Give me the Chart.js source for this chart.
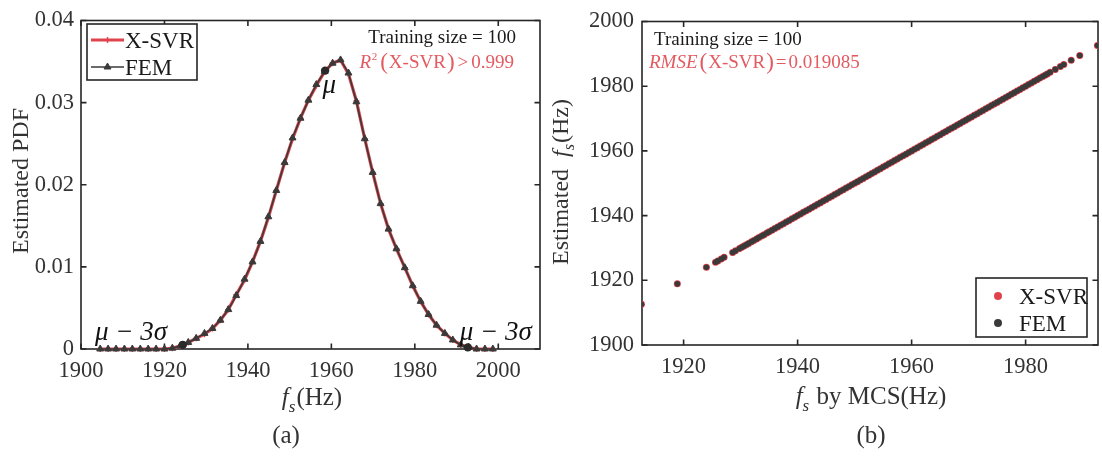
<!DOCTYPE html>
<html>
<head>
<meta charset="utf-8">
<script src="https://cdn.jsdelivr.net/npm/chart.js@4.4.1/dist/chart.umd.min.js"></script>
<style>
  html, body { margin: 0; padding: 0; background: #fff; }
  #wrap { position: relative; width: 1102px; height: 456px; overflow: hidden; }
  canvas { position: absolute; top: 0; }
  #pdfChart { left: 0; }
  #scatterChart { left: 551px; }
</style>
</head>
<body>
<div id="wrap">
  <canvas id="pdfChart" width="551" height="456"></canvas>
  <canvas id="scatterChart" width="551" height="456"></canvas>
</div>
<script>
// ---------- (a) estimated PDF of the first natural frequency ----------
const pdfFreq = [
  1904.6, 1906.5, 1908.4, 1910.4, 1912.3, 1914.2, 1916.1, 1918.0, 1920.0, 1921.9,
  1923.8, 1925.7, 1927.6, 1929.6, 1931.5, 1933.4, 1935.3, 1937.2, 1939.2, 1941.1,
  1943.0, 1944.9, 1946.8, 1948.8, 1950.7, 1952.6, 1954.5, 1956.4, 1958.4, 1960.3,
  1962.2, 1964.1, 1966.0, 1968.0, 1969.9, 1971.8, 1973.7, 1975.6, 1977.6, 1979.5,
  1981.4, 1983.3, 1985.2, 1987.2, 1989.1, 1991.0, 1992.9, 1994.8, 1996.8, 1998.7
];
const pdfXsvr = [
  0, 0, 0, 0, 0, 0, 0, 0, 0, 0.0001,
  0.0004, 0.0008, 0.0013, 0.0018, 0.0025, 0.0035, 0.0048, 0.0066, 0.0084, 0.0106,
  0.0131, 0.0160, 0.0193, 0.0227, 0.0256, 0.0281, 0.0303, 0.0321, 0.0338, 0.0348,
  0.0352, 0.0335, 0.0302, 0.0256, 0.0215, 0.0177, 0.0146, 0.0122, 0.0099, 0.0077,
  0.0058, 0.0042, 0.0029, 0.0019, 0.0011, 0.0005, 0.0002, 0, 0, 0
];
const pdfFem = [
  0, 0, 0, 0, 0, 0, 0, 0, 0, 0.0001,
  0.0004, 0.0008, 0.0013, 0.0019, 0.0025, 0.0035, 0.0048, 0.0065, 0.0085, 0.0106,
  0.0131, 0.0161, 0.0193, 0.0227, 0.0257, 0.0281, 0.0303, 0.0322, 0.0338, 0.0348,
  0.0352, 0.0336, 0.0301, 0.0256, 0.0215, 0.0177, 0.0146, 0.0122, 0.0099, 0.0077,
  0.0058, 0.0042, 0.0029, 0.0019, 0.0011, 0.0005, 0.0002, 0, 0, 0
];
// mean and the two 3-sigma bounds marked on the curve
const markFreq = [1924.4, 1958.5, 1992.7];
const markPdf = [0.0005, 0.0339, 0.0002];
const pdfTicksX = [1900, 1920, 1940, 1960, 1980, 2000];
const pdfTicksY = [0, 0.01, 0.02, 0.03, 0.04];

// ---------- (b) estimated vs. MCS frequencies ----------
const mcsFreq = [
  1912.6, 1918.9, 1924.0, 1925.6, 1926.0, 1926.6, 1927.1, 1928.6, 1929.1, 1929.8,
  1930.2, 1930.6, 1931.0, 1931.4, 1931.9, 1932.3, 1932.8, 1933.2, 1933.7, 1934.1,
  1934.6, 1935.0, 1935.5, 1936.0, 1936.5, 1937.0, 1937.5, 1938.0, 1938.5, 1939.0,
  1939.5, 1940.0, 1940.5, 1941.0, 1941.5, 1942.0, 1942.5, 1943.0, 1943.5, 1944.0,
  1944.5, 1945.0, 1945.5, 1946.0, 1946.5, 1947.0, 1947.5, 1948.0, 1948.5, 1949.0,
  1949.5, 1950.0, 1950.5, 1951.0, 1951.5, 1952.0, 1952.5, 1953.0, 1953.5, 1954.0,
  1954.5, 1955.0, 1955.5, 1956.0, 1956.5, 1957.0, 1957.5, 1958.0, 1958.5, 1959.0,
  1959.5, 1960.0, 1960.5, 1961.0, 1961.5, 1962.0, 1962.5, 1963.0, 1963.5, 1964.0,
  1964.5, 1965.0, 1965.5, 1966.0, 1966.5, 1967.0, 1967.5, 1968.0, 1968.5, 1969.0,
  1969.5, 1970.0, 1970.5, 1971.0, 1971.5, 1972.0, 1972.5, 1973.0, 1973.5, 1974.0,
  1974.5, 1975.0, 1975.5, 1976.0, 1976.5, 1977.0, 1977.5, 1978.0, 1978.5, 1979.0,
  1979.5, 1980.0, 1980.5, 1981.0, 1981.5, 1982.0, 1982.5, 1983.0, 1983.4, 1983.8,
  1984.3, 1985.2, 1986.1, 1986.7, 1988.0, 1989.5, 1992.6
];
const femFreq = mcsFreq;
const xsvrFreq = [
  1912.6, 1918.9, 1924.0, 1925.6, 1926.0, 1926.6, 1927.1, 1928.6, 1929.1, 1929.8,
  1930.2, 1930.6, 1931.0, 1931.4, 1931.9, 1932.3, 1932.8, 1933.2, 1933.7, 1934.1,
  1934.6, 1935.0, 1935.5, 1936.0, 1936.5, 1937.0, 1937.5, 1938.0, 1938.5, 1939.0,
  1939.5, 1940.0, 1940.5, 1941.0, 1941.5, 1942.0, 1942.5, 1943.0, 1943.5, 1944.0,
  1944.5, 1945.0, 1945.5, 1946.0, 1946.5, 1947.0, 1947.5, 1948.0, 1948.5, 1949.0,
  1949.5, 1950.0, 1950.5, 1951.0, 1951.5, 1952.0, 1952.5, 1953.0, 1953.5, 1954.0,
  1954.5, 1955.0, 1955.5, 1956.0, 1956.5, 1957.0, 1957.5, 1958.0, 1958.5, 1959.0,
  1959.5, 1960.0, 1960.5, 1961.0, 1961.5, 1962.0, 1962.5, 1963.0, 1963.5, 1964.0,
  1964.5, 1965.0, 1965.5, 1966.0, 1966.5, 1967.0, 1967.5, 1968.0, 1968.5, 1969.0,
  1969.5, 1970.0, 1970.5, 1971.0, 1971.5, 1972.0, 1972.5, 1973.0, 1973.5, 1974.0,
  1974.5, 1975.0, 1975.5, 1976.0, 1976.5, 1977.0, 1977.5, 1978.0, 1978.5, 1979.0,
  1979.5, 1980.0, 1980.5, 1981.0, 1981.5, 1982.0, 1982.5, 1983.0, 1983.4, 1983.8,
  1984.3, 1985.2, 1986.1, 1986.7, 1988.0, 1989.5, 1992.6
];
const scatterTicksX = [1920, 1940, 1960, 1980];
const scatterTicksY = [1900, 1920, 1940, 1960, 1980, 2000];

// ---------- styling ----------
const SERIF = "'Liberation Serif','Times New Roman',serif";
const INK = '#262626';
const LABEL = '#333333';
const RED = '#e0434b';
const RED_TEXT = '#e35a60';
const DARK = '#3a3a3a';

function serif(size, italic) { return (italic ? 'italic ' : '') + size + 'px ' + SERIF; }

function pairs(xs, ys) { return xs.map((x, i) => ({ x: x, y: ys[i] })); }

// draws a row of text pieces with individual fonts / offsets
function drawRuns(ctx, runs, x, y, align) {
  let w = 0;
  for (const r of runs) { ctx.font = r.font; w += ctx.measureText(r.text).width + (r.gap || 0); }
  let cx = align === 'center' ? x - w / 2 : (align === 'right' ? x - w : x);
  ctx.textAlign = 'left';
  ctx.textBaseline = 'alphabetic';
  for (const r of runs) {
    ctx.font = r.font;
    if (r.color) ctx.fillStyle = r.color;
    ctx.fillText(r.text, cx, y + (r.dy || 0));
    cx += ctx.measureText(r.text).width + (r.gap || 0);
  }
}

// f with italic subscript s, followed by the rest of an axis title
function freqTitle(size, before, after) {
  const runs = [];
  if (before) runs.push({ text: before, font: serif(size) });
  runs.push({ text: 'f', font: serif(size, true), gap: 0 });
  runs.push({ text: 's', font: serif(Math.round(size * 0.68), true), dy: Math.round(size * 0.27), gap: 1 });
  runs.push({ text: after, font: serif(size) });
  return runs;
}

// boxed axes with inward tick marks on all four sides
const boxAxes = {
  id: 'boxAxes',
  beforeDatasetsDraw(chart) {
    const { ctx, chartArea: a, scales: { x, y } } = chart;
    const tl = 5.5;
    ctx.save();
    ctx.strokeStyle = INK;
    ctx.lineWidth = 1.6;
    ctx.beginPath();
    for (const t of x.ticks) {
      const px = x.getPixelForValue(t.value);
      ctx.moveTo(px, a.bottom); ctx.lineTo(px, a.bottom - tl);
      ctx.moveTo(px, a.top); ctx.lineTo(px, a.top + tl);
    }
    for (const t of y.ticks) {
      const py = y.getPixelForValue(t.value);
      ctx.moveTo(a.left, py); ctx.lineTo(a.left + tl, py);
      ctx.moveTo(a.right, py); ctx.lineTo(a.right - tl, py);
    }
    ctx.stroke();
    ctx.strokeRect(a.left, a.top, a.right - a.left, a.bottom - a.top);
    ctx.restore();
  }
};

function fixedTicks(values) {
  return function (scale) { scale.ticks = values.map(v => ({ value: v })); };
}

function tickFont() { return { family: SERIF, size: 22.5 }; }
const noGrid = { display: false, drawTicks: false };

// ---------- chart (a) ----------
const pdfDecor = {
  id: 'pdfDecor',
  afterDraw(chart) {
    const { ctx, scales: { x, y } } = chart;
    const ds = chart.data.datasets;
    ctx.save();
    ctx.fillStyle = LABEL;

    // axis titles
    drawRuns(ctx, freqTitle(25, '', '(Hz)'), 312, 405, 'center');
    drawRuns(ctx, [{ text: '(a)', font: serif(25) }], 286, 443, 'center');
    ctx.save();
    ctx.translate(28, 181);
    ctx.rotate(-Math.PI / 2);
    drawRuns(ctx, [{ text: 'Estimated PDF', font: serif(24) }], 0, 0, 'center');
    ctx.restore();

    // annotations
    ctx.fillStyle = '#1a1a1a';
    drawRuns(ctx, [{ text: 'Training size = 100', font: serif(19) }], 516, 43, 'right');
    drawRuns(ctx, [
      { text: 'R', font: serif(19, true), color: RED_TEXT, gap: 0.5 },
      { text: '2', font: serif(11), dy: -8, gap: 3 },
      { text: '(', font: serif(23), dy: 1, gap: 1 },
      { text: 'X-SVR', font: serif(19), gap: 1 },
      { text: ')', font: serif(23), dy: 1, gap: 3 },
      { text: '>', font: serif(19), gap: 3 },
      { text: '0.999', font: serif(19) }
    ], 514, 68, 'right');

    // mean / 3-sigma labels
    ctx.fillStyle = '#111';
    ctx.textAlign = 'center';
    ctx.textBaseline = 'middle';
    ctx.font = serif(27, true);
    ctx.fillText('\u03bc', x.getPixelForValue(1959.5), y.getPixelForValue(0.0320));
    ctx.fillText('\u03bc \u2212 3\u03c3', x.getPixelForValue(1912.0), y.getPixelForValue(0.0019));
    ctx.fillText('\u03bc \u2212 3\u03c3', x.getPixelForValue(1999.4), y.getPixelForValue(0.0019));

    // legend
    const L = { left: 87, top: 24, right: 197, bottom: 80 };
    ctx.fillStyle = '#fff';
    ctx.fillRect(L.left, L.top, L.right - L.left, L.bottom - L.top);
    ctx.strokeStyle = INK;
    ctx.lineWidth = 1.6;
    ctx.strokeRect(L.left, L.top, L.right - L.left, L.bottom - L.top);
    const rows = [{ d: ds[1], y: 40 }, { d: ds[0], y: 67 }];
    for (const r of rows) {
      ctx.strokeStyle = r.d.borderColor;
      ctx.lineWidth = r.d.borderWidth;
      ctx.beginPath();
      ctx.moveTo(91, r.y); ctx.lineTo(124, r.y);
      ctx.stroke();
      ctx.fillStyle = r.d.pointBackgroundColor;
      ctx.strokeStyle = r.d.pointBorderColor;
      ctx.lineWidth = r.d.pointBorderWidth;
      Chart.helpers.drawPoint(ctx, {
        pointStyle: r.d.pointStyle, radius: r.d.pointRadius, rotation: 0,
        borderWidth: r.d.pointBorderWidth
      }, 107.5, r.y);
      ctx.fillStyle = '#1a1a1a';
      drawRuns(ctx, [{ text: r.d.label, font: serif(23) }], 125, r.y + 8, 'left');
    }
    ctx.restore();
  }
};

new Chart(document.getElementById('pdfChart'), {
  type: 'scatter',
  data: {
    datasets: [
      {
        label: 'FEM', data: pairs(pdfFreq, pdfFem), showLine: true, tension: 0,
        borderColor: DARK, borderWidth: 1.6,
        pointStyle: 'triangle', pointRadius: 4, pointBorderWidth: 1,
        pointBackgroundColor: DARK, pointBorderColor: DARK,
        order: 1, clip: false
      },
      {
        label: 'X-SVR', data: pairs(pdfFreq, pdfXsvr), showLine: true, tension: 0,
        borderColor: RED, borderWidth: 3.2,
        pointStyle: 'cross', pointRadius: 3, pointBorderWidth: 1.4,
        pointBackgroundColor: RED, pointBorderColor: RED,
        order: 2, clip: false
      },
      {
        label: 'marks', data: pairs(markFreq, markPdf), showLine: false,
        pointStyle: 'circle', pointRadius: 4.2, pointBorderWidth: 0,
        pointBackgroundColor: '#2a2a2a', pointBorderColor: '#2a2a2a',
        order: 0, clip: false
      }
    ]
  },
  options: {
    responsive: false,
    animation: false,
    events: [],
    layout: { padding: { left: 0, top: 13, right: 11, bottom: 0 } },
    plugins: { legend: { display: false }, tooltip: { enabled: false } },
    scales: {
      x: {
        type: 'linear', min: 1900, max: 2010,
        grid: noGrid, border: { display: false },
        afterBuildTicks: fixedTicks(pdfTicksX),
        afterFit(s) { s.height = 107; },
        ticks: { font: tickFont(), color: LABEL, padding: 9, maxRotation: 0, callback: v => String(v) }
      },
      y: {
        type: 'linear', min: 0, max: 0.04,
        grid: noGrid, border: { display: false },
        afterBuildTicks: fixedTicks(pdfTicksY),
        afterFit(s) { s.width = 81; },
        ticks: { font: tickFont(), color: LABEL, padding: 7, callback: v => String(+v.toFixed(2)) }
      }
    }
  },
  plugins: [boxAxes, pdfDecor]
});

// ---------- chart (b) ----------
const scatterDecor = {
  id: 'scatterDecor',
  afterDraw(chart) {
    const { ctx } = chart;
    const ds = chart.data.datasets;
    ctx.save();
    ctx.fillStyle = LABEL;

    drawRuns(ctx, freqTitle(25, '', ' by MCS(Hz)'), 320, 404, 'center');
    drawRuns(ctx, [{ text: '(b)', font: serif(25) }], 320, 443, 'center');
    ctx.save();
    ctx.translate(17, 182);
    ctx.rotate(-Math.PI / 2);
    drawRuns(ctx, freqTitle(24, 'Estimated  ', '(Hz)'), 0, 0, 'center');
    ctx.restore();

    ctx.fillStyle = '#1a1a1a';
    drawRuns(ctx, [{ text: 'Training size = 100', font: serif(19) }], 103, 45, 'left');
    drawRuns(ctx, [
      { text: 'RMSE', font: serif(19, true), color: RED_TEXT, gap: 2 },
      { text: '(', font: serif(23), dy: 1, gap: 1 },
      { text: 'X-SVR', font: serif(19), gap: 1 },
      { text: ')', font: serif(23), dy: 1, gap: 2 },
      { text: '=', font: serif(19), gap: 2 },
      { text: '0.019085', font: serif(19) }
    ], 98, 68, 'left');

    // legend
    const L = { left: 425, top: 278, right: 536, bottom: 337 };
    ctx.fillStyle = '#fff';
    ctx.fillRect(L.left, L.top, L.right - L.left, L.bottom - L.top);
    ctx.strokeStyle = INK;
    ctx.lineWidth = 1.6;
    ctx.strokeRect(L.left, L.top, L.right - L.left, L.bottom - L.top);
    const rows = [{ d: ds[1], y: 296 }, { d: ds[0], y: 323 }];
    for (const r of rows) {
      ctx.fillStyle = r.d.pointBackgroundColor;
      ctx.beginPath();
      ctx.arc(447, r.y, 4, 0, Math.PI * 2);
      ctx.fill();
      ctx.fillStyle = '#1a1a1a';
      drawRuns(ctx, [{ text: r.d.label, font: serif(23) }], 468, r.y + 8, 'left');
    }
    ctx.restore();
  }
};

new Chart(document.getElementById('scatterChart'), {
  type: 'scatter',
  data: {
    datasets: [
      {
        label: 'FEM', data: pairs(mcsFreq, femFreq),
        pointStyle: 'circle', pointRadius: 2.8, pointBorderWidth: 0,
        pointBackgroundColor: DARK, pointBorderColor: DARK, order: 1
      },
      {
        label: 'X-SVR', data: pairs(mcsFreq, xsvrFreq),
        pointStyle: 'circle', pointRadius: 3.5, pointBorderWidth: 0,
        pointBackgroundColor: RED, pointBorderColor: RED, order: 2
      }
    ]
  },
  options: {
    responsive: false,
    animation: false,
    events: [],
    layout: { padding: { left: 0, top: 15, right: 1, bottom: 0 } },
    plugins: { legend: { display: false }, tooltip: { enabled: false } },
    scales: {
      x: {
        type: 'linear', min: 1912.7, max: 1992.7,
        grid: noGrid, border: { display: false },
        afterBuildTicks: fixedTicks(scatterTicksX),
        afterFit(s) { s.height = 111; },
        ticks: { font: tickFont(), color: LABEL, padding: 9, maxRotation: 0, callback: v => String(v) }
      },
      y: {
        type: 'linear', min: 1900, max: 2000,
        grid: noGrid, border: { display: false },
        afterBuildTicks: fixedTicks(scatterTicksY),
        afterFit(s) { s.width = 91; },
        ticks: { font: tickFont(), color: LABEL, padding: 8, callback: v => String(v) }
      }
    }
  },
  plugins: [boxAxes, scatterDecor]
});
</script>
</body>
</html>
